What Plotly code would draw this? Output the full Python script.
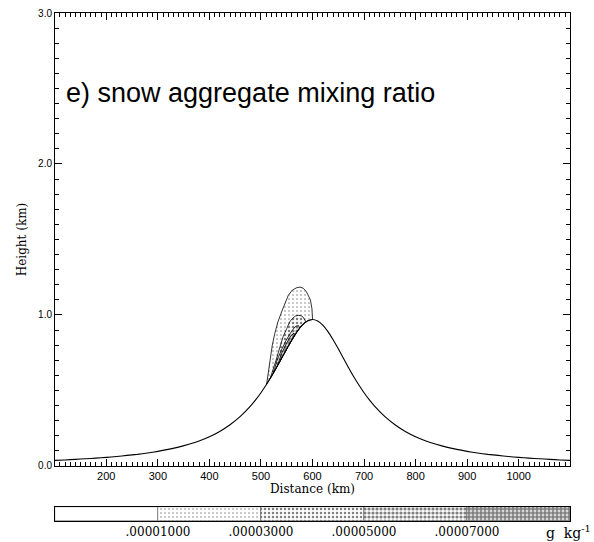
import plotly.graph_objects as go

# ---------------- data ----------------
# terrain profile: distance (km) and height (km)
terrain_x = [100, 120, 140, 160, 180, 200, 220, 240, 260, 280, 300, 320, 340, 360, 380,
             400, 420, 440, 460, 480, 490, 500, 510, 520, 530, 540, 550, 560, 570, 580,
             590, 600, 610, 620, 630, 640, 650, 660, 670, 680, 690, 700, 710, 720, 740,
             760, 780, 800, 820, 840, 860, 880, 900, 920, 940, 960, 980, 1000, 1020,
             1040, 1060, 1080, 1100]
terrain_z = [0.037, 0.040, 0.044, 0.048, 0.052, 0.057, 0.063, 0.070, 0.077, 0.086, 0.097,
             0.110, 0.125, 0.144, 0.166, 0.194, 0.229, 0.273, 0.328, 0.398, 0.439, 0.485,
             0.536, 0.591, 0.651, 0.713, 0.776, 0.836, 0.890, 0.933, 0.960, 0.970, 0.960,
             0.933, 0.890, 0.836, 0.776, 0.713, 0.651, 0.591, 0.536, 0.485, 0.439, 0.398,
             0.328, 0.273, 0.229, 0.194, 0.166, 0.144, 0.125, 0.110, 0.097, 0.086, 0.077,
             0.070, 0.063, 0.057, 0.052, 0.048, 0.044, 0.040, 0.037]

# contour regions of snow aggregate mixing ratio (closed outlines, km)
c1_x = [511, 514, 517.5, 522, 527, 533, 540, 547, 553, 561, 569, 576, 582, 588, 592, 596,
        599, 600, 590, 580, 570, 560, 550, 540, 530, 520, 511]
c1_z = [0.541, 0.62, 0.713, 0.80, 0.879, 0.955, 1.02, 1.08, 1.13, 1.165, 1.18, 1.185,
        1.177, 1.155, 1.13, 1.10, 1.04, 0.970, 0.960, 0.933, 0.890, 0.836, 0.776, 0.713,
        0.651, 0.591, 0.541]
c2_x = [518, 524, 530.5, 537, 543, 550, 556, 562, 567, 572, 578, 582, 585, 587, 580, 570,
        560, 550, 540, 530, 520, 518]
c2_z = [0.58, 0.64, 0.713, 0.79, 0.856, 0.91, 0.956, 0.98, 0.993, 0.998, 0.995, 0.985,
        0.97, 0.955, 0.933, 0.890, 0.836, 0.776, 0.713, 0.651, 0.591, 0.58]
c3_x = [525, 530, 540, 550, 560, 567, 573, 575, 570, 560, 550, 540, 530, 525]
c3_z = [0.621, 0.69, 0.77, 0.84, 0.895, 0.925, 0.93, 0.913, 0.890, 0.836, 0.776, 0.713,
        0.651, 0.621]
c4_x = [532, 540, 550, 558, 564, 566, 560, 550, 540, 532]
c4_z = [0.664, 0.745, 0.815, 0.862, 0.88, 0.87, 0.836, 0.776, 0.713, 0.664]

# colour-key
key_levels = [".00001000", ".00003000", ".00005000", ".00007000"]
key_bins = [0.5, 1.5, 2.5, 3.5, 4.5]
key_ones = [1, 1, 1, 1, 1]

# ---------------- styling ----------------
solid = [0.0, 0.12, 0.3, 0.5, 0.75]
XR = [100.5, 1099.5]
YR = [0, 3]

fig = go.Figure()

for (cx, cz, s) in [(c1_x, c1_z, solid[1]), (c2_x, c2_z, solid[2]),
                    (c3_x, c3_z, solid[3]), (c4_x, c4_z, solid[4])]:
    fig.add_trace(go.Scatter(
        x=cx, y=cz, mode="lines", fill="toself",
        fillcolor="white",
        fillpattern=dict(shape=".", fgcolor="black", bgcolor="white", size=4, solidity=s),
        line=dict(color="black", width=0.8), showlegend=False, hoverinfo="skip"))

fig.add_trace(go.Scatter(x=terrain_x, y=terrain_z, mode="lines",
                         line=dict(color="black", width=1.1, shape="spline", smoothing=0.6),
                         showlegend=False, hoverinfo="skip"))

fig.add_trace(go.Bar(
    x=key_bins, y=key_ones, width=1, xaxis="x2", yaxis="y2",
    marker=dict(color="white",
                pattern=dict(shape=".", fgcolor="black", bgcolor="white", size=4,
                             solidity=solid),
                line=dict(color="#555", width=0.6)),
    showlegend=False, hoverinfo="skip"))

axis_font = dict(family="DejaVu Serif", size=12, color="black")

common = dict(showgrid=False, zeroline=False, automargin=False,
              showline=True, linecolor="black", linewidth=1, mirror="allticks",
              ticks="inside", tickcolor="black", tickwidth=1, ticklen=7)

fig.update_layout(
    width=594, height=542,
    margin=dict(l=55, r=24, t=13, b=21, autoexpand=False),
    paper_bgcolor="white", plot_bgcolor="white",
    xaxis=dict(range=XR, domain=[0, 1], tickmode="linear", tick0=0, dtick=100,
               minor=dict(tickmode="linear", tick0=0, dtick=10, ticks="inside",
                          ticklen=4, tickcolor="black", tickwidth=1),
               tickfont=dict(family="Liberation Sans", size=11, color="black"),
               title=dict(text="Distance (km)", font=axis_font, standoff=3), **common),
    yaxis=dict(range=YR, domain=[0.1083, 1], tickmode="linear", tick0=0, dtick=1,
               tickformat=".1f",
               minor=dict(tickmode="linear", tick0=0, dtick=0.1, ticks="inside",
                          ticklen=4, tickcolor="black", tickwidth=1),
               tickfont=dict(family="Liberation Sans", size=10, color="black"),
               title=dict(text="Height (km)", font=axis_font, standoff=8), **common),
    xaxis2=dict(range=[0, 5], domain=[0, 1], anchor="y2", tickvals=[1, 2, 3, 4],
                ticktext=key_levels, ticks="", showline=True, linecolor="black",
                mirror=True, showgrid=False, zeroline=False, automargin=False,
                tickfont=dict(family="DejaVu Serif", size=12, color="black")),
    yaxis2=dict(range=[0, 1], domain=[0, 0.0276], anchor="x2", showticklabels=False,
                ticks="", showline=True, linecolor="black", mirror=True,
                showgrid=False, zeroline=False, automargin=False),
    bargap=0,
    annotations=[
        dict(text="e) snow aggregate mixing ratio", xref="x domain", yref="y domain",
             x=0.018, y=0.823, xanchor="left", yanchor="middle", showarrow=False,
             font=dict(family="Liberation Sans", size=27, color="black")),
        dict(text="g  kg<sup>-1</sup>", xref="paper", yref="paper",
             x=1.045, y=-0.022, xanchor="right", yanchor="middle", showarrow=False,
             font=dict(family="DejaVu Serif", size=14, color="black")),
    ],
)

fig.write_html("out.html")
